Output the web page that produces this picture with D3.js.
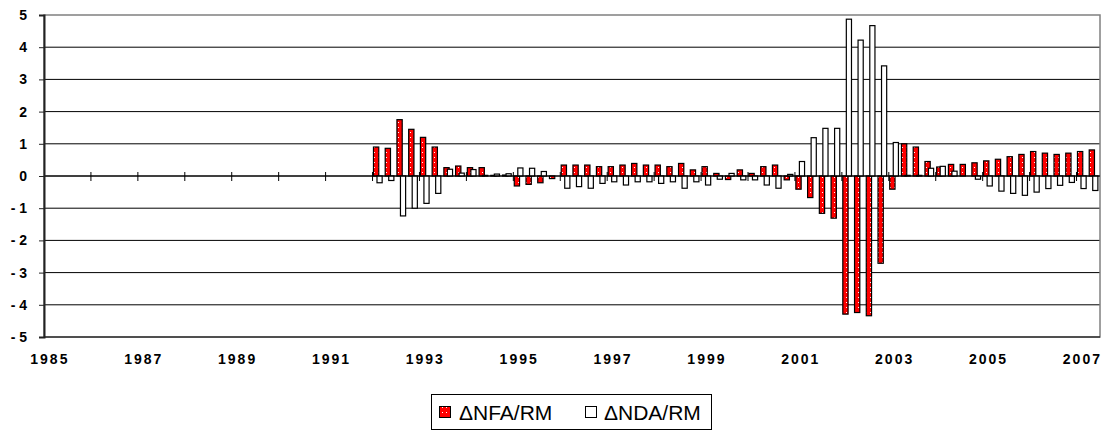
<!DOCTYPE html>
<html>
<head>
<meta charset="utf-8">
<script src="https://cdn.jsdelivr.net/npm/d3@7"></script>
<style>
  body { margin: 0; background: #fff; }
  svg { display: block; font-family: "Liberation Sans", Arial, sans-serif; }
</style>
</head>
<body>
<svg id="chart"></svg>
<script>
// quarterly categories 1985Q1 .. 2007Q2
const years = d3.range(1985, 2008);
const quarters = [1, 2, 3, 4];
const categories = years.flatMap((y) => quarters.map((q) => `${y}Q${q}`))
  .filter((c) => c <= '2007Q2');

// data begins in 1992Q1
const firstQuarter = '1992Q1';
const nfaValues = [
  0.90, 0.86, 1.75, 1.45, 1.20, 0.90, 0.26, 0.31,
  0.26, 0.26, 0.02, 0.03, -0.31, -0.26, -0.21, -0.08,
  0.34, 0.34, 0.34, 0.29, 0.29, 0.34, 0.39, 0.34,
  0.34, 0.29, 0.39, 0.19, 0.29, 0.08, -0.11, 0.19,
  0.08, 0.29, 0.34, -0.12, -0.41, -0.67, -1.16, -1.31,
  -4.29, -4.24, -4.34, -2.71, -0.41, 1.00, 0.90, 0.45,
  0.28, 0.36, 0.36, 0.41, 0.47, 0.52, 0.60, 0.67,
  0.76, 0.71, 0.67, 0.71, 0.76, 0.81,
];
const ndaValues = [
  -0.21, -0.14, -1.24, -1.00, -0.85, -0.54, 0.21, 0.09,
  0.20, 0.02, 0.06, 0.07, 0.25, 0.24, 0.14, 0.00,
  -0.38, -0.33, -0.38, -0.23, -0.18, -0.28, -0.18, -0.18,
  -0.23, -0.18, -0.38, -0.18, -0.28, -0.10, 0.08, -0.12,
  -0.12, -0.28, -0.38, 0.05, 0.45, 1.19, 1.48, 1.48,
  4.87, 4.22, 4.67, 3.42, 1.04, 0.02, 0.02, 0.24,
  0.30, 0.15, 0.00, -0.10, -0.31, -0.47, -0.54, -0.60,
  -0.50, -0.39, -0.29, -0.20, -0.39, -0.45,
];
const yTicks = [5, 4, 3, 2, 1, 0, -1, -2, -3, -4, -5];
const seriesNames = ['\u0394NFA/RM', '\u0394NDA/RM'];

const width = 1105;
const height = 433;
const plot = { left: 44, right: 1100, top: 15, bottom: 337 };

const svg = d3.select('#chart')
  .attr('width', width)
  .attr('height', height);

// dotted red fill
const defs = svg.append('defs');
const pat = defs.append('pattern')
  .attr('id', 'dots')
  .attr('patternUnits', 'userSpaceOnUse')
  .attr('width', 4)
  .attr('height', 5);
pat.append('rect').attr('width', 4).attr('height', 5).attr('fill', '#ff0000');
pat.append('rect').attr('x', 2).attr('y', 2).attr('width', 1).attr('height', 1).attr('fill', '#ffffff');

const x = d3.scaleBand()
  .domain(categories)
  .range([plot.left, plot.right])
  .paddingInner(0)
  .paddingOuter(0);
const y = d3.scaleLinear()
  .domain([-5, 5])
  .range([plot.bottom, plot.top]);

// gridlines
svg.append('g')
  .selectAll('line')
  .data(yTicks.filter((v) => v !== 5 && v !== -5))
  .join('line')
  .attr('x1', plot.left)
  .attr('x2', plot.right)
  .attr('y1', (d) => y(d))
  .attr('y2', (d) => y(d))
  .attr('stroke', '#000')
  .attr('stroke-width', 1);

// plot border
svg.append('rect')
  .attr('x', plot.left)
  .attr('y', plot.top)
  .attr('width', plot.right - plot.left)
  .attr('height', plot.bottom - plot.top)
  .attr('fill', 'none')
  .attr('stroke', '#808080')
  .attr('stroke-width', 1.5);
svg.append('line')
  .attr('x1', plot.left).attr('x2', plot.right)
  .attr('y1', plot.bottom).attr('y2', plot.bottom)
  .attr('stroke', '#000');

// bars
const start = categories.indexOf(firstQuarter);
const rows = nfaValues.map((v, i) => ({ cat: categories[start + i], nfa: v, nda: ndaValues[i] }));
const bw = x.bandwidth();

svg.append('g')
  .selectAll('rect')
  .data(rows)
  .join('rect')
  .attr('x', (d) => x(d.cat) + bw * 0.08)
  .attr('width', bw * 0.45)
  .attr('y', (d) => y(Math.max(0, d.nfa)))
  .attr('height', (d) => Math.abs(y(d.nfa) - y(0)))
  .attr('fill', 'url(#dots)')
  .attr('stroke', '#000')
  .attr('stroke-width', 1.2);

svg.append('g')
  .selectAll('rect')
  .data(rows)
  .join('rect')
  .attr('x', (d) => x(d.cat) + bw * 0.38)
  .attr('width', bw * 0.44)
  .attr('y', (d) => y(Math.max(0, d.nda)))
  .attr('height', (d) => Math.abs(y(d.nda) - y(0)))
  .attr('fill', '#fff')
  .attr('stroke', '#000')
  .attr('stroke-width', 1.2);

// zero line with cross ticks at each year
svg.append('line')
  .attr('x1', plot.left).attr('x2', plot.right)
  .attr('y1', y(0)).attr('y2', y(0))
  .attr('stroke', '#000');
svg.append('g')
  .selectAll('line')
  .data(categories.filter((c, i) => i > 0 && c.endsWith('Q1')))
  .join('line')
  .attr('x1', (d) => x(d))
  .attr('x2', (d) => x(d))
  .attr('y1', y(0) - 4)
  .attr('y2', y(0) + 5)
  .attr('stroke', '#000');

// y axis
const yAxis = svg.append('g')
  .attr('transform', `translate(${plot.left},0)`)
  .call(d3.axisLeft(y)
    .tickValues(yTicks)
    .tickSize(5)
    .tickPadding(12)
    .tickFormat((v) => (v < 0 ? `- ${-v}` : `${v}`)));
yAxis.select('.domain').attr('stroke', '#222').attr('stroke-width', 2);
yAxis.selectAll('.tick line').attr('stroke', '#222');
yAxis.selectAll('text')
  .attr('font-size', 14)
  .attr('font-weight', 'bold')
  .attr('fill', '#000');

// x axis labels, every second year
const xAxis = svg.append('g')
  .attr('transform', `translate(0,${plot.bottom})`)
  .call(d3.axisBottom(x)
    .tickValues(categories.filter((c) => c.endsWith('Q1') && (+c.slice(0, 4) % 2 === 1)))
    .tickSize(0)
    .tickFormat((c) => c.slice(0, 4)));
xAxis.select('.domain').remove();
xAxis.selectAll('text')
  .attr('y', 27)
  .attr('dy', 0)
  .attr('font-size', 14)
  .attr('font-weight', 'bold')
  .attr('letter-spacing', 2)
  .attr('fill', '#000');

// legend
const legend = svg.append('g');
legend.append('rect')
  .attr('x', 431.5).attr('y', 394.5)
  .attr('width', 280).attr('height', 35)
  .attr('fill', '#fff')
  .attr('stroke', '#000');
const items = [
  { name: seriesNames[0], fill: 'url(#dots)', sx: 439, tx: 459 },
  { name: seriesNames[1], fill: '#fff', sx: 585, tx: 604 },
];
items.forEach((it) => {
  legend.append('rect')
    .attr('x', it.sx + 0.5).attr('y', 406.5)
    .attr('width', 11).attr('height', 11)
    .attr('fill', it.fill)
    .attr('stroke', '#000');
  legend.append('text')
    .attr('x', it.tx)
    .attr('y', 420)
    .attr('font-size', 21)
    .attr('fill', '#000')
    .text(it.name);
});
</script>
</body>
</html>
